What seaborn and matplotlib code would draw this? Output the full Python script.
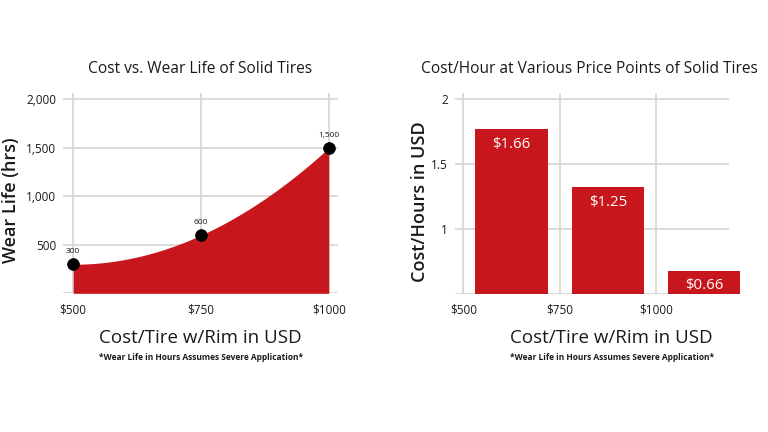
import numpy as np
import pandas as pd
import matplotlib
matplotlib.use("Agg")
import matplotlib.pyplot as plt
import seaborn as sns
from matplotlib.ticker import FuncFormatter

# ---- data ----
cost = [500, 750, 1000]
wear_life = [300, 600, 1500]
wear_labels = ["300", "600", "1,500"]

bar_cost = [625, 875, 1125]
cost_per_hour = [1.77, 1.32, 0.68]          # bar heights as drawn
cph_labels = ["$1.66", "$1.25", "$0.66"]

x_ticks = [500, 750, 1000]
x_ticklabels = ["$500", "$750", "$1000"]
left_yticks = [500, 1000, 1500, 2000]
right_yticks = [1, 1.5, 2]
right_yticklabels = ["1", "1.5", "2"]

RED = "#C8171C"
GRID = "#d4d4d4"
TXT = "#1a1a1a"

sns.set_theme(style="white")
plt.rcParams["font.family"] = ["Open Sans", "DejaVu Sans"]

fig = plt.figure(figsize=(7.68, 4.32), dpi=100)
ax1 = fig.add_axes([0.082, 0.321, 0.358, 0.464])
ax2 = fig.add_axes([0.5924, 0.3194, 0.3715, 0.466])

for ax in (ax1, ax2):
    for s in ax.spines.values():
        s.set_visible(False)
    ax.set_axisbelow(True)
    ax.tick_params(axis="x", length=4, width=1.2, color=GRID, pad=3,
                   labelsize=8.5, labelcolor=TXT)
    ax.tick_params(axis="y", length=0, pad=5, labelsize=8.5, labelcolor=TXT)

# ---- left: area chart ----
ax1.grid(True, color=GRID, linewidth=1.2)
df1 = pd.DataFrame({"cost": cost, "wear": wear_life})
coef = np.polyfit(df1["cost"], df1["wear"], 2)
xs = np.linspace(min(cost), max(cost), 200)
ys = np.polyval(coef, xs)
ax1.fill_between(xs, 0, ys, color=RED, linewidth=0, zorder=2)
sns.scatterplot(data=df1, x="cost", y="wear", ax=ax1, color="black",
                s=70, edgecolor="black", zorder=4, legend=False)
for x, y, t in zip(cost, wear_life, wear_labels):
    ax1.annotate(t, (x, y), xytext=(0, 9), textcoords="offset points",
                 ha="center", va="center", fontsize=6, color=TXT)
ax1.set_xlim(480, 1018)
ax1.set_ylim(0, 2068)
ax1.set_xticks(x_ticks)
ax1.set_xticklabels(x_ticklabels)
ax1.set_yticks(left_yticks)
ax1.yaxis.set_major_formatter(FuncFormatter(lambda v, p: f"{int(v):,}"))
ax1.axhline(0, color=GRID, linewidth=1.2, zorder=1)
ax1.set_xlabel("")
ax1.set_ylabel("")
ax1.set_title("Cost vs. Wear Life of Solid Tires", fontsize=11.2,
              fontweight="medium", color=TXT, pad=14)

# ---- right: bar chart ----
ax2.grid(True, axis="x", color=GRID, linewidth=1.2)
df2 = pd.DataFrame({"cost": bar_cost, "cph": cost_per_hour})
sns.barplot(data=df2, x="cost", y="cph", ax=ax2, native_scale=True,
            color=RED, saturation=1, width=0.75, zorder=2)
for p in ax2.patches:
    p.set_linewidth(0)
for x, y, t in zip(bar_cost, cost_per_hour, cph_labels):
    ax2.annotate(t, (x, y), xytext=(0, -11), textcoords="offset points",
                 ha="center", va="center", fontsize=10.8, color="white",
                 zorder=5)
ax2.set_xlim(478.5, 1217.5)
ax2.set_ylim(0.5, 2.048)
ax2.hlines(right_yticks + [0.5], 478.5, 1188, color=GRID, linewidth=1.2,
           zorder=1)
ax2.set_xticks(x_ticks)
ax2.set_xticklabels(x_ticklabels)
ax2.set_yticks(right_yticks)
ax2.set_yticklabels(right_yticklabels)
ax2.set_xlabel("")
ax2.set_ylabel("")
ax2.set_title("Cost/Hour at Various Price Points of Solid Tires",
              fontsize=11.2, fontweight="medium", color=TXT, pad=14,
              x=0.472)

# ---- axis titles & footnotes (figure text) ----
fig.text(0.003, 0.537, "Wear Life (hrs)", rotation=90, ha="left",
         va="center", fontsize=13, fontweight="semibold", color=TXT)
fig.text(0.535, 0.534, "Cost/Hours in USD", rotation=90, ha="left",
         va="center", fontsize=13, fontweight="semibold", color=TXT)
fig.text(0.261, 0.217, "Cost/Tire w/Rim in USD", ha="center", va="center",
         fontsize=13.5, color=TXT)
fig.text(0.7956, 0.217, "Cost/Tire w/Rim in USD", ha="center", va="center",
         fontsize=13.5, color=TXT)
fig.text(0.262, 0.173, "*Wear Life in Hours Assumes Severe Application*",
         ha="center", va="center", fontsize=6, fontweight="bold", color=TXT)
fig.text(0.797, 0.173, "*Wear Life in Hours Assumes Severe Application*",
         ha="center", va="center", fontsize=6, fontweight="bold", color=TXT)

fig.savefig("out.png", dpi=100, facecolor="white")
